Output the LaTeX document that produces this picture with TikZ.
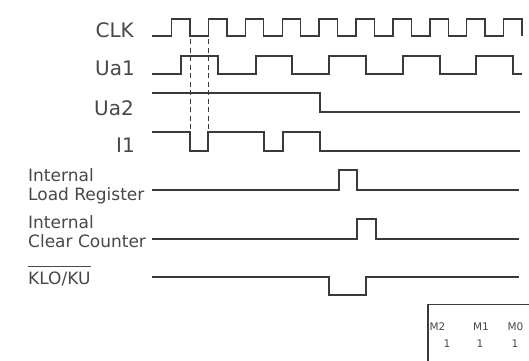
\documentclass[tikz,border=0pt]{standalone}
\usepackage{fontspec}
\setmainfont{DejaVu Sans}
\definecolor{wavecol}{HTML}{3A3A3A}
\definecolor{textcol}{HTML}{484848}
\begin{document}
\begin{tikzpicture}[x=1pt,y=-1pt,
  wave/.style={draw=wavecol, line width=1.4pt, line join=miter},
  guide/.style={draw=wavecol, line width=0.9pt, dash pattern=on 5pt off 3.5pt},
  biglabel/.style={text=textcol, font=\fontsize{20}{24}\selectfont, inner sep=0pt, anchor=base east},
  smalllabel/.style={text=textcol, font=\fontsize{17}{20}\selectfont, inner sep=0pt, anchor=base west},
  boxtext/.style={text=textcol, font=\fontsize{10.5}{12}\selectfont, inner sep=0pt, anchor=base}]
\useasboundingbox (0,0) rectangle (529,360);
\fill[white] (0,0) rectangle (529,360);

% CLK
\draw[wave] (152,36) -- (171.5,36)
  \foreach \k in {0,...,8} { -- ++(0,-17) -- ++(18.45,0) -- ++(0,17) -- ++(18.45,0) }
  -- ++(0,-17) -- ++(18.45,0) -- ++(0,17);
% Ua1
\draw[wave] (152,74) -- (181,74) -- (181,56) -- (218,56) -- (218,74) -- (256,74) -- (256,56)
  -- (292,56) -- (292,74) -- (329,74) -- (329,56) -- (366,56) -- (366,74) -- (403,74)
  -- (403,56) -- (440,56) -- (440,74) -- (476,74) -- (476,56) -- (513,56) -- (513,74) -- (522,74);
% Ua2
\draw[wave] (152,93) -- (320,93) -- (320,112) -- (520,112);
% I1
\draw[wave] (152,132) -- (190,132) -- (190,151) -- (208,151) -- (208,132) -- (264,132)
  -- (264,151) -- (283,151) -- (283,132) -- (320,132) -- (320,151) -- (520,151);
% Internal Load Register
\draw[wave] (152,190) -- (339,190) -- (339,170) -- (357,170) -- (357,190) -- (519,190);
% Internal Clear Counter
\draw[wave] (152,239) -- (357,239) -- (357,219) -- (376,219) -- (376,239) -- (519,239);
% KLO/KU
\draw[wave] (152,277) -- (329,277) -- (329,295) -- (366,295) -- (366,277) -- (519,277);

% dashed guides
\draw[guide] (190,39) -- (190,132);
\draw[guide] (208,39) -- (208,132);

% labels
\node[biglabel] (clk) at (134,37) {CLK};
\node[biglabel] (ua1) at (135,75) {Ua1};
\node[biglabel] (ua2) at (134,115) {Ua2};
\node[biglabel] (i1) at (135,152) {I1};

\node[smalllabel] (int1) at (28,181) {Internal};
\node[smalllabel] (load) at (28,200) {Load Register};
\node[smalllabel] (int2) at (28,228) {Internal};
\node[smalllabel] (clr) at (28,247) {Clear Counter};
\node[smalllabel] (klo) at (28,284) {KLO/KU};
\draw[textcol, line width=1pt] ([yshift=5pt]klo.north west) -- ([yshift=5pt]klo.north east);

% mode box
\draw[wavecol, line width=1pt] (540,304) -- (428,304);
\draw[wavecol, line width=2pt] (428,303.5) -- (428,370);
\node[boxtext] (m2) at (437.5,330) {M2};
\node[boxtext] (m1) at (481,330) {M1};
\node[boxtext] (m0) at (515.5,330) {M0};
\node[boxtext] (v2) at (447,347) {1};
\node[boxtext] (v1) at (480,347) {1};
\node[boxtext] (v0) at (515,347) {1};
\end{tikzpicture}
\end{document}
